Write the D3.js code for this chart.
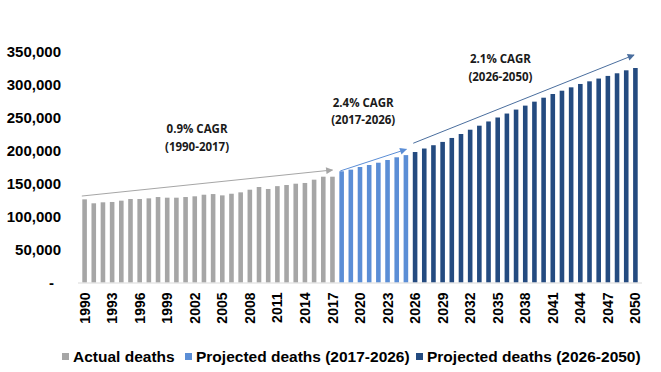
<!DOCTYPE html>
<html>
<head>
<meta charset="utf-8">
<script src="https://cdn.jsdelivr.net/npm/d3@7"></script>
<style>
  body { margin: 0; background: #fff; }
  svg { display: block; }
</style>
</head>
<body>
<svg id="chart"></svg>
<script>
// categories
const firstYear = 1990;
const lastYear = 2050;
const years = d3.range(firstYear, lastYear + 1);

// series values (deaths per year)
const actualDeaths = [126000, 120000, 121500, 122000, 124000, 126500, 126500, 127500, 129500, 128500,
  128500, 129500, 130600, 133000, 134000, 132000, 134500, 136600, 140600, 144700,
  141700, 146000, 147700, 149700, 150800, 155800, 160300, 160300]; // 1990-2017
const projectedNear = [168500, 171000, 175000, 178000, 181500, 185600, 189700, 193000]; // 2018-2025
const projectedFar = [197700, 203000, 208000, 213000, 219000, 225000, 231500, 237600, 244000, 250000,
  256000, 262000, 268000, 274000, 280000, 285600, 290600, 295700, 300800, 304800,
  309000, 313000, 317000, 321500, 325000]; // 2026-2050

const seriesNames = ["Actual deaths", "Projected deaths (2017-2026)", "Projected deaths (2026-2050)"];
const yTicks = [0, 50000, 100000, 150000, 200000, 250000, 300000, 350000];

// CAGR annotations: [year, value] for arrow ends, label position
const cagrNotes = [
  { from: [1989.7, 131000], to: [2017, 170500], label: [2002.25, 232600], text: ["0.9% CAGR", "(1990-2017)"], series: 0 },
  { from: [2017.85, 169000], to: [2025.05, 201800], label: [2020.35, 272400], text: ["2.4% CAGR", "(2017-2026)"], series: 1 },
  { from: [2025.8, 211000], to: [2049.85, 344700], label: [2035.3, 338000], text: ["2.1% CAGR", "(2026-2050)"], series: 2 }
];

const colors = ["#A6A6A6", "#5B8ED6", "#244B80"];
const arrowColors = ["#A6A6A6", "#5B8ED6", "#4A6E9E"];

const values = actualDeaths.concat(projectedNear, projectedFar);
const data = years.map((yr, i) => ({
  year: yr,
  value: values[i],
  series: i < actualDeaths.length ? 0 : (i < actualDeaths.length + projectedNear.length ? 1 : 2)
}));

const dims = { width: 661, height: 372, left: 80, right: 21, top: 51.5, bottom: 89.5 };

const svg = d3.select("#chart")
  .attr("width", dims.width)
  .attr("height", dims.height);

const x = d3.scaleBand()
  .domain(years)
  .range([dims.left, dims.width - dims.right])
  .paddingInner(0.5)
  .paddingOuter(0.25);

const y = d3.scaleLinear()
  .domain([0, 350000])
  .range([dims.height - dims.bottom, dims.top]);

// fractional year -> pixel, measured from the first band centre
function xAt(yr) {
  return x(firstYear) + x.bandwidth() / 2 + (yr - firstYear) * x.step();
}

// y axis: labels only
const axisY = d3.axisLeft(y)
  .tickValues(yTicks)
  .tickSize(0)
  .tickPadding(19)
  .tickFormat(d => d === 0 ? "-" : d3.format(",")(d));

const gy = svg.append("g")
  .attr("transform", `translate(${dims.left},0)`)
  .call(axisY);
gy.select(".domain").remove();
gy.selectAll("text")
  .style("font-family", "'Liberation Sans', Arial, sans-serif")
  .style("font-size", "15px")
  .style("font-weight", "bold")
  .attr("fill", "#000")
  .attr("dx", d => d === 0 ? -7 : 0);

// bars
svg.append("g")
  .selectAll("rect")
  .data(data)
  .join("rect")
  .attr("x", d => x(d.year))
  .attr("y", d => y(d.value))
  .attr("width", x.bandwidth())
  .attr("height", d => y(0) - y(d.value))
  .attr("fill", d => colors[d.series]);

// x axis
const axisX = d3.axisBottom(x)
  .tickValues(years.filter(yr => (yr - firstYear) % 3 === 0))
  .tickSize(0)
  .tickPadding(0);

const gx = svg.append("g")
  .attr("transform", `translate(0,${y(0)})`)
  .call(axisX);
gx.select(".domain")
  .attr("stroke", "#D9D9D9")
  .attr("d", `M${x.range()[0] - 2},0.5H${x.range()[1] + 2}`);
gx.selectAll("text")
  .attr("transform", "rotate(-90)")
  .attr("text-anchor", "end")
  .attr("x", -10)
  .attr("y", 0)
  .attr("dy", "0.36em")
  .attr("fill", "#000")
  .style("font-family", "'Liberation Sans', Arial, sans-serif")
  .style("font-size", "14px")
  .style("font-weight", "bold");

// arrow markers
const defs = svg.append("defs");
arrowColors.forEach((c, i) => {
  defs.append("marker")
    .attr("id", "arrow" + i)
    .attr("viewBox", "0 0 10 10")
    .attr("refX", 9)
    .attr("refY", 5)
    .attr("markerWidth", 9)
    .attr("markerHeight", 7)
    .attr("markerUnits", "userSpaceOnUse")
    .attr("orient", "auto")
    .append("path")
    .attr("d", "M0,0L10,5L0,10Z")
    .attr("fill", c);
});

const notes = svg.append("g");
cagrNotes.forEach(n => {
  notes.append("line")
    .attr("x1", xAt(n.from[0]))
    .attr("y1", y(n.from[1]))
    .attr("x2", xAt(n.to[0]))
    .attr("y2", y(n.to[1]))
    .attr("stroke", arrowColors[n.series])
    .attr("stroke-width", 1)
    .attr("marker-end", `url(#arrow${n.series})`);

  const t = notes.append("text")
    .attr("x", xAt(n.label[0]))
    .attr("y", y(n.label[1]))
    .attr("text-anchor", "middle")
    .attr("fill", "#1a1a1a")
    .style("font-family", "'Open Sans', sans-serif")
    .style("font-size", "11.5px")
    .style("font-weight", "bold");
  n.text.forEach((line, k) => {
    t.append("tspan")
      .attr("x", xAt(n.label[0]))
      .attr("dy", k === 0 ? "0.35em" : "17.5px")
      .text(line);
  });
});

// legend
const legendX = [62, 185, 416];
const legend = svg.append("g")
  .attr("transform", "translate(0,357)");
seriesNames.forEach((name, i) => {
  const item = legend.append("g").attr("transform", `translate(${legendX[i]},0)`);
  item.append("rect")
    .attr("x", 0)
    .attr("y", -4)
    .attr("width", 7)
    .attr("height", 7)
    .attr("fill", colors[i]);
  item.append("text")
    .attr("x", 11)
    .attr("y", 0)
    .attr("dy", "0.35em")
    .attr("fill", "#000")
    .style("font-family", "'Liberation Sans', Arial, sans-serif")
    .style("font-size", "15.5px")
    .style("font-weight", "bold")
    .text(name);
});
</script>
</body>
</html>
